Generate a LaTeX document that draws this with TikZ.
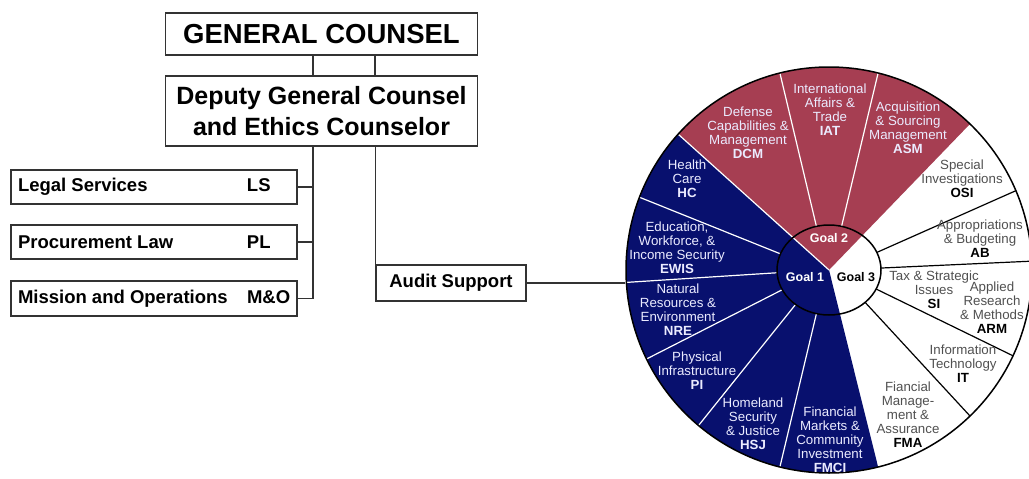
\documentclass[tikz,border=0pt]{standalone}
\usepackage{fontspec}
\setmainfont{Liberation Sans}
\usepackage{xcolor}
\definecolor{goalred}{RGB}{166,62,82}
\definecolor{goalblue}{RGB}{8,16,110}
\definecolor{wedgeink}{RGB}{80,80,80}

\begin{document}
\begin{tikzpicture}[x=1pt, y=1pt,
  box/.style={draw=black!80, line width=1.3pt, inner sep=0pt, font=\bfseries},
  team/.style={box, minimum width=286pt, minimum height=34pt, inner xsep=7pt, font=\bfseries\fontsize{18.5}{20}\selectfont},
  link/.style={draw=black!80, line width=1.3pt},
  unit/.style={align=center, inner sep=0pt, font=\fontsize{13.3}{14}\selectfont, text=white!92!blue},
  unitw/.style={unit, text=wedgeink},
  goal/.style={inner sep=0pt, font=\bfseries\fontsize{12.5}{14}\selectfont}]
  \useasboundingbox (0,0) rectangle (1029,-479);

  % office of the general counsel
  \node[box, minimum width=312pt, minimum height=42pt, font=\bfseries\fontsize{27.5}{30}\selectfont] (gc) at (321.5,-34) {GENERAL COUNSEL};
  \node[box, minimum width=312pt, minimum height=70pt, align=center, font=\bfseries\fontsize{25}{31}\selectfont] (dgc) at (321.5,-111) {Deputy General Counsel\\and Ethics Counselor};
  \node[team] (ls) at (154,-187) {\makebox[272pt][l]{Legal Services\hfill\makebox[43pt][l]{LS}}};
  \node[team] (pl) at (154,-242) {\makebox[272pt][l]{Procurement Law\hfill\makebox[43pt][l]{PL}}};
  \node[team, minimum height=35pt] (mo) at (154,-298.5) {\makebox[272pt][l]{Mission and Operations\hfill\makebox[43pt][l]{M\&O}}};
  \node[box, minimum width=150pt, minimum height=36pt, font=\bfseries\fontsize{18.5}{20}\selectfont] (audit) at (451,-283) {Audit Support};

  \draw[link] ([xshift=-8.5pt]gc.south) -- ([xshift=-8.5pt]dgc.north);
  \draw[link] ([xshift=53.5pt]gc.south) -- ([xshift=53.5pt]dgc.north);
  \coordinate (spine) at ([xshift=-8.5pt]dgc.south);
  \draw[link] (spine) |- (mo.east);
  \draw[link] (ls.east) -- (ls.east -| spine);
  \draw[link] (pl.east) -- (pl.east -| spine);
  \draw[link] (audit.north west |- dgc.south) -- (audit.north west);

  % goal wheel
  \coordinate (c) at (829,-270);
  \fill[goalred] (c) -- ++(46:203) arc[start angle=46, end angle=138, radius=203] -- cycle;
  \fill[goalblue] (c) -- ++(138:203) arc[start angle=138, end angle=284, radius=203] -- cycle;
  \foreach \a in {76,104,159,183.5,206,230,256}
    \draw[white, line width=1.2pt, shift={(c)}] (\a:52 and 45) -- (\a:203);
  \draw[white, line width=1.2pt, shift={(c)}] (0,0) -- (138:203);
  \foreach \a in {23,2.5,-25,-46}
    \draw[black, line width=1.2pt, shift={(c)}] (\a:52 and 45) -- (\a:203);
  \node[circle, draw, line width=1.5pt, minimum size=406pt, inner sep=0pt] (pie) at (c) {};
  \draw[line width=1.5pt] (c) ellipse[x radius=52, y radius=45];
  \draw[link] (audit.east) -- (audit.east -| pie.west);

  \node[goal, text=white] (g2) at (829,-238) {Goal 2};
  \node[goal, text=white] (g1) at (805,-277) {Goal 1};
  \node[goal] (g3) at (856,-277) {Goal 3};

  \node[unit] (dcm) at (748,-133) {Defense\\Capabilities \&\\Management\\\textbf{DCM}};
  \node[unit] (iat) at (830,-110) {International\\Affairs \&\\Trade\\\textbf{IAT}};
  \node[unit] (asm) at (908,-128) {Acquisition\\\& Sourcing\\Management\\\textbf{ASM}};
  \node[unit] (hc) at (687,-179) {Health\\Care\\\textbf{HC}};
  \node[unit] (ewis) at (677,-248) {Education,\\Workforce, \&\\Income Security\\\textbf{EWIS}};
  \node[unit] (nre) at (678,-310) {Natural\\Resources \&\\Environment\\\textbf{NRE}};
  \node[unit] (pi) at (697,-371) {Physical\\Infrastructure\\\textbf{PI}};
  \node[unit] (hsj) at (753,-424) {Homeland\\Security\\\& Justice\\\textbf{HSJ}};
  \node[unit] (fmci) at (830,-440) {Financial\\Markets \&\\Community\\Investment\\\textbf{FMCI}};
  \node[unitw] (fma) at (908,-415) {Fiancial\\Manage-\\ment \&\\Assurance\\{\bfseries\color{black}FMA}};
  \node[unitw] (it) at (963,-364) {Information\\Technology\\{\bfseries\color{black}IT}};
  \node[unitw] (si) at (934,-290) {Tax \& Strategic\\Issues\\{\bfseries\color{black}SI}};
  \node[unitw] (arm) at (992,-308) {Applied\\Research\\\& Methods\\{\bfseries\color{black}ARM}};
  \node[unitw] (osi) at (962,-179) {Special\\Investigations\\{\bfseries\color{black}OSI}};
  \node[unitw] (ab) at (980,-239) {Appropriations\\\& Budgeting\\{\bfseries\color{black}AB}};
\end{tikzpicture}
\end{document}
